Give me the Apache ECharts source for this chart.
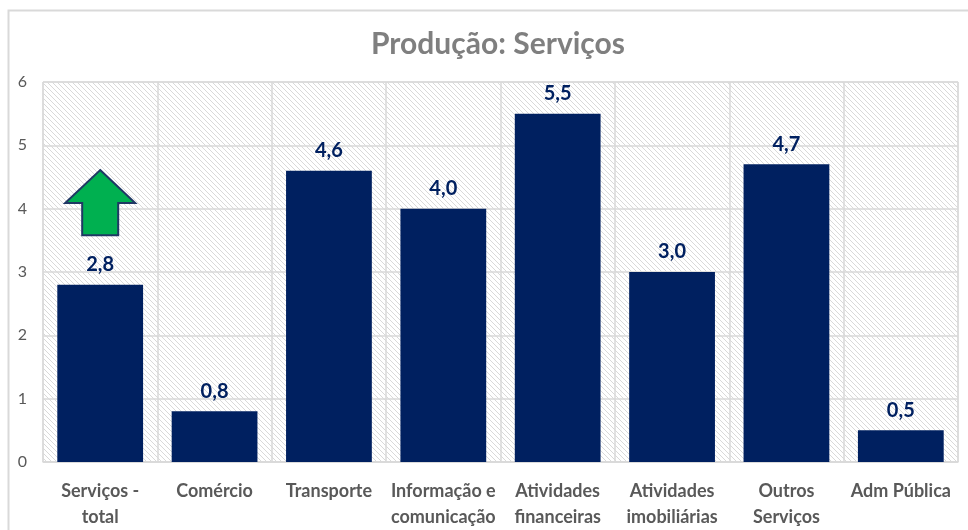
<!DOCTYPE html>
<html>
<head>
<meta charset="utf-8">
<script src="https://cdn.jsdelivr.net/npm/echarts@6/dist/echarts.min.js"></script>
<style>
  html, body { margin: 0; padding: 0; background: #fff; }
  #chart { width: 968px; height: 530px; }
</style>
</head>
<body>
<div id="chart"></div>
<script>
// data
const categories = [
  "Serviços -\ntotal", "Comércio", "Transporte", "Informação e\ncomunicação",
  "Atividades\nfinanceiras", "Atividades\nimobiliárias", "Outros\nServiços", "Adm Pública"
];
const values = [2.8, 0.8, 4.6, 4.0, 5.5, 3.0, 4.7, 0.5];
const yTicks = [0, 1, 2, 3, 4, 5, 6];

const FONT = "Lato, 'Open Sans', sans-serif";
const NAVY = "#002060";

// diagonal hatch for plot background
function makeHatch() {
  const c = document.createElement("canvas");
  c.width = 5; c.height = 5;
  const ctx = c.getContext("2d");
  ctx.fillStyle = "#ffffff";
  ctx.fillRect(0, 0, 5, 5);
  ctx.strokeStyle = "#d9d9d9";
  ctx.lineWidth = 1;
  ctx.beginPath();
  ctx.moveTo(-1, -1); ctx.lineTo(6, 6);
  ctx.moveTo(-6, -1); ctx.lineTo(1, 6);
  ctx.moveTo(4, -1); ctx.lineTo(11, 6);
  ctx.stroke();
  return c;
}

const chart = echarts.init(document.getElementById("chart"));
chart.setOption({
  animation: false,
  title: {
    text: "Produção: Serviços",
    left: 493,
    textAlign: "center",
    top: 24,
    textStyle: { fontFamily: FONT, fontSize: 30, fontWeight: "bold", color: "#7f7f7f" },
  },
  grid: {
    left: 43,
    right: 10,
    top: 82,
    bottom: 68,
    show: true,
    backgroundColor: { image: makeHatch(), repeat: "repeat" },
    borderColor: "#d9d9d9",
    borderWidth: 1,
  },
  xAxis: {
    type: "category",
    data: categories,
    axisLine: { show: true, lineStyle: { color: "#d9d9d9", width: 1.5 } },
    axisTick: { show: false },
    splitLine: { show: true, lineStyle: { color: "#d9d9d9", width: 1.5 } },
    axisLabel: {
      interval: 0,
      margin: 16,
      fontFamily: FONT,
      fontSize: 18,
      fontWeight: "bold",
      color: "#595959",
      lineHeight: 26,
    },
  },
  yAxis: {
    type: "value",
    min: yTicks[0],
    max: yTicks[yTicks.length - 1],
    interval: 1,
    axisLine: { show: false },
    axisTick: { show: false },
    splitLine: { lineStyle: { color: "#d9d9d9", width: 1.5 } },
    axisLabel: { fontFamily: FONT, fontSize: 16, color: "#595959", margin: 16 },
  },
  series: [{
    type: "bar",
    data: values,
    barCategoryGap: "25%",
    itemStyle: { color: NAVY },
    label: {
      show: true,
      position: "top",
      distance: 10,
      formatter: (p) => p.value.toFixed(1).replace(".", ","),
      fontFamily: FONT,
      fontSize: 20,
      fontWeight: "bold",
      color: NAVY,
    },
  }],
});

// outer frame and green arrow annotation
const tip = chart.convertToPixel({ gridIndex: 0 }, [0, 4.61]);
const base = chart.convertToPixel({ gridIndex: 0 }, [0, 4.09]);
const bottom = chart.convertToPixel({ gridIndex: 0 }, [0, 3.58]);
const cx = tip[0];
chart.setOption({
  graphic: [
    {
      type: "rect",
      shape: { x: 8.5, y: 10.5, width: 980, height: 540 },
      style: { fill: "none", stroke: "#d9d9d9", lineWidth: 2 },
      silent: true,
    },
    {
      type: "polygon",
      shape: {
        points: [
          [cx, tip[1]],
          [cx + 35, base[1]],
          [cx + 18, base[1]],
          [cx + 18, bottom[1]],
          [cx - 18, bottom[1]],
          [cx - 18, base[1]],
          [cx - 35, base[1]],
        ],
      },
      style: { fill: "#00b050", stroke: "#1f3864", lineWidth: 2 },
      z: 100,
    },
  ],
});
</script>
</body>
</html>
